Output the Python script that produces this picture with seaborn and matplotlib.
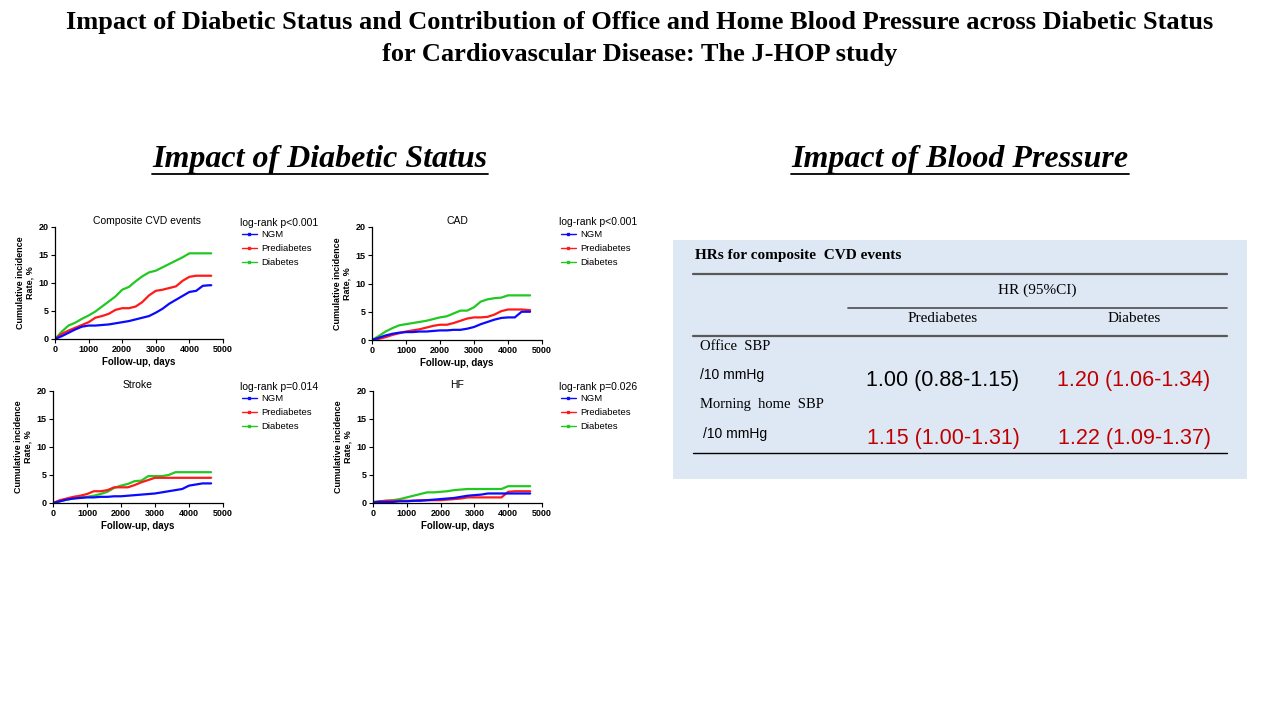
import pandas as pd
import matplotlib.pyplot as plt
import seaborn as sns
from matplotlib.lines import Line2D

# Data (cumulative incidence, %)
days = [0, 200, 400, 600, 800, 1000, 1200, 1400, 1600, 1800, 2000, 2200, 2400,
        2600, 2800, 3000, 3200, 3400, 3600, 3800, 4000, 4200, 4400, 4600, 4650]

cvd_ngm = [0, 0.5, 1.1, 1.7, 2.2, 2.4, 2.4, 2.5, 2.6, 2.8, 3.0, 3.2, 3.5,
           3.8, 4.1, 4.7, 5.4, 6.3, 7.0, 7.7, 8.4, 8.6, 9.5, 9.6, 9.6]
cvd_pre = [0, 0.9, 1.5, 2.0, 2.5, 3.0, 3.8, 4.1, 4.5, 5.2, 5.5, 5.5, 5.8,
           6.6, 7.8, 8.6, 8.8, 9.1, 9.4, 10.4, 11.1, 11.3, 11.3, 11.3, 11.3]
cvd_dm = [0, 1.3, 2.4, 2.9, 3.6, 4.2, 4.9, 5.8, 6.7, 7.6, 8.8, 9.3, 10.3,
          11.2, 11.9, 12.2, 12.8, 13.4, 14.0, 14.6, 15.3, 15.3, 15.3, 15.3, 15.3]

cad_ngm = [0, 0.4, 0.8, 1.1, 1.3, 1.4, 1.4, 1.5, 1.5, 1.6, 1.7, 1.7, 1.8,
           1.8, 2.0, 2.3, 2.8, 3.2, 3.6, 3.9, 4.0, 4.0, 5.0, 5.0, 5.0]
cad_pre = [0, 0.2, 0.5, 0.9, 1.2, 1.5, 1.7, 1.9, 2.2, 2.5, 2.7, 2.7, 3.0,
           3.4, 3.8, 4.0, 4.0, 4.1, 4.5, 5.1, 5.4, 5.4, 5.4, 5.3, 5.3]
cad_dm = [0, 0.7, 1.5, 2.1, 2.6, 2.8, 3.0, 3.2, 3.4, 3.7, 4.0, 4.2, 4.7,
          5.2, 5.2, 5.8, 6.8, 7.2, 7.4, 7.5, 7.9, 7.9, 7.9, 7.9, 7.9]

stroke_ngm = [0, 0.3, 0.6, 0.8, 0.9, 1.0, 1.0, 1.1, 1.1, 1.2, 1.2, 1.3, 1.4,
              1.5, 1.6, 1.7, 1.9, 2.1, 2.3, 2.5, 3.1, 3.3, 3.5, 3.5, 3.5]
stroke_pre = [0, 0.5, 0.8, 1.1, 1.3, 1.6, 2.1, 2.1, 2.3, 2.8, 2.8, 2.8, 3.2,
              3.7, 4.1, 4.5, 4.5, 4.5, 4.5, 4.5, 4.5, 4.5, 4.5, 4.5, 4.5]
stroke_dm = [0, 0.3, 0.6, 0.8, 1.0, 1.1, 1.3, 1.6, 2.0, 2.7, 3.1, 3.4, 3.9,
             4.0, 4.8, 4.8, 4.8, 5.0, 5.5, 5.5, 5.5, 5.5, 5.5, 5.5, 5.5]

hf_ngm = [0.1, 0.2, 0.2, 0.2, 0.3, 0.3, 0.4, 0.4, 0.5, 0.6, 0.7, 0.8, 0.9,
          1.1, 1.3, 1.4, 1.5, 1.7, 1.7, 1.7, 1.7, 1.7, 1.7, 1.7, 1.7]
hf_pre = [0.1, 0.3, 0.4, 0.4, 0.4, 0.4, 0.4, 0.5, 0.5, 0.5, 0.5, 0.6, 0.7,
          0.8, 1.0, 1.0, 1.0, 1.0, 1.0, 1.0, 2.0, 2.1, 2.1, 2.1, 2.1]
hf_dm = [0.2, 0.3, 0.4, 0.5, 0.7, 1.0, 1.3, 1.6, 1.9, 1.9, 2.0, 2.1, 2.3,
         2.4, 2.5, 2.5, 2.5, 2.5, 2.5, 2.5, 3.0, 3.0, 3.0, 3.0, 3.0]

groups = ['NGM', 'Prediabetes', 'Diabetes']
panel_titles = ['Composite CVD events', 'CAD', 'Stroke', 'HF']
panel_pvalues = ['log-rank p<0.001', 'log-rank p<0.001', 'log-rank p=0.014', 'log-rank p=0.026']
panel_series = [(cvd_ngm, cvd_pre, cvd_dm), (cad_ngm, cad_pre, cad_dm),
                (stroke_ngm, stroke_pre, stroke_dm), (hf_ngm, hf_pre, hf_dm)]

# Table of hazard ratios
hr_columns = ['Prediabetes', 'Diabetes']
hr_rows = ['Office  SBP', 'Morning  home  SBP']
hr_values = [['1.00 (0.88-1.15)', '1.20 (1.06-1.34)'],
             ['1.15 (1.00-1.31)', '1.22 (1.09-1.37)']]
hr_significant = [[False, True], [True, True]]

palette = {'NGM': '#0a0aff', 'Prediabetes': '#ff1a1a', 'Diabetes': '#22c822'}

sns.set_style('ticks')
plt.rcParams['font.family'] = ['Liberation Sans', 'DejaVu Sans']
plt.rcParams['text.color'] = 'black'
plt.rcParams['axes.labelcolor'] = 'black'

fig = plt.figure(figsize=(12.8, 7.2), dpi=100)
W, H = 1280, 720

# Slide titles
fig.text(0.5, 1 - 22 / H, 'Impact of Diabetic Status and Contribution of Office and Home Blood Pressure across Diabetic Status',
         ha='center', va='center', fontsize=19, fontweight='bold', family='Liberation Serif')
fig.text(0.5, 1 - 54 / H, 'for Cardiovascular Disease: The J-HOP study',
         ha='center', va='center', fontsize=19, fontweight='bold', family='Liberation Serif')
sub1 = fig.text(320 / W, 1 - 160 / H, 'Impact of Diabetic Status', ha='center', va='center',
                fontsize=23, fontweight='bold', style='italic', family='Liberation Serif')
sub2 = fig.text(960 / W, 1 - 160 / H, 'Impact of Blood Pressure', ha='center', va='center',
                fontsize=23, fontweight='bold', style='italic', family='Liberation Serif')

# KM panels
positions = [[55 / W, 1 - 339 / H, 168 / W, 112 / H],
             [372 / W, 1 - 340 / H, 170 / W, 113 / H],
             [53 / W, 1 - 503 / H, 170 / W, 112 / H],
             [373 / W, 1 - 503 / H, 169 / W, 112 / H]]
title_x = [0.55, 0.5, 0.5, 0.5]

for i, pos in enumerate(positions):
    ax = fig.add_axes(pos)
    ngm, pre, dm = panel_series[i]
    df = pd.DataFrame({
        'day': days * 3,
        'rate': dm + pre + ngm,
        'group': ['Diabetes'] * len(days) + ['Prediabetes'] * len(days) + ['NGM'] * len(days),
    })
    sns.lineplot(data=df, x='day', y='rate', hue='group', palette=palette,
                 hue_order=['Diabetes', 'Prediabetes', 'NGM'], estimator=None,
                 linewidth=1.6, legend=False, ax=ax)
    ax.set_xlim(0, 5000)
    ax.set_ylim(0, 20)
    ax.set_xticks([0, 1000, 2000, 3000, 4000, 5000])
    ax.set_yticks([0, 5, 10, 15, 20])
    ax.tick_params(labelsize=6.5, length=3, width=0.8, pad=1.5, colors='black')
    for lab in ax.get_xticklabels() + ax.get_yticklabels():
        lab.set_fontweight('bold')
    for s in ['left', 'bottom']:
        ax.spines[s].set_color('black')
        ax.spines[s].set_linewidth(0.9)
    sns.despine(ax=ax)
    ax.set_xlabel('Follow-up, days', fontsize=7, fontweight='bold', labelpad=2)
    ax.set_ylabel('Cumulative incidence\nRate, %', fontsize=6.5, fontweight='bold',
                  labelpad=3, linespacing=1.1)
    ax.set_title(panel_titles[i], fontsize=7.5, pad=2, x=title_x[i])
    ax.text(1.10, 1.04, panel_pvalues[i], transform=ax.transAxes, fontsize=7.5,
            ha='left', va='center')
    handles = [Line2D([], [], color=palette[g], lw=1.0, marker='s', markersize=1.8) for g in groups]
    ax.legend(handles, groups, loc='upper left', bbox_to_anchor=(1.10, 0.99), frameon=False,
              fontsize=6.8, handlelength=1.6, handletextpad=0.5, labelspacing=0.55,
              borderpad=0.2, borderaxespad=0)

# Table panel
axt = fig.add_axes([673 / W, 1 - 479 / H, 574 / W, 239 / H])
axt.set_xlim(673, 1247)
axt.set_ylim(479, 240)
axt.set_facecolor('#dee8f4')
axt.set_xticks([])
axt.set_yticks([])
for s in axt.spines.values():
    s.set_visible(False)

serif = 'Liberation Serif'
axt.text(695, 256, 'HRs for composite  CVD events', fontsize=11, fontweight='bold',
         family=serif, ha='left', va='center')
axt.plot([693, 1227], [274, 274], color='#595959', lw=1.6)
axt.text(1037, 290, 'HR (95%CI)', fontsize=11, family=serif, ha='center', va='center')
axt.plot([848, 1227], [308, 308], color='#595959', lw=1.3)
col_x = [943, 1134]
for cx, name in zip(col_x, hr_columns):
    axt.text(cx, 319, name, fontsize=11, family=serif, ha='center', va='center')
axt.plot([693, 1227], [336, 336], color='#595959', lw=1.6)

row_label_y = [347, 405]
row_unit_y = [375, 434]
row_value_y = [381, 439]
for r, name in enumerate(hr_rows):
    axt.text(700, row_label_y[r], name, fontsize=10.5, family=serif, ha='left', va='center')
    axt.text(700 + 3 * r, row_unit_y[r], '/10 mmHg', fontsize=10, ha='left', va='center')
    for c in range(len(hr_columns)):
        color = '#c00000' if hr_significant[r][c] else 'black'
        axt.text(col_x[c], row_value_y[r], hr_values[r][c], fontsize=15.5, color=color,
                 ha='center', va='center')
axt.plot([693, 1227], [453, 453], color='black', lw=1.0)

# Underline the section headings
fig.canvas.draw()
inv = fig.transFigure.inverted()
for t in [sub1, sub2]:
    bb = t.get_window_extent()
    (x0, y0), (x1, y1) = inv.transform([[bb.x0, bb.y0], [bb.x1, bb.y1]])
    fig.add_artist(Line2D([x0, x1], [y0 + 1 / H, y0 + 1 / H], color='black', lw=1.3))

plt.savefig('out.png', dpi=100)
